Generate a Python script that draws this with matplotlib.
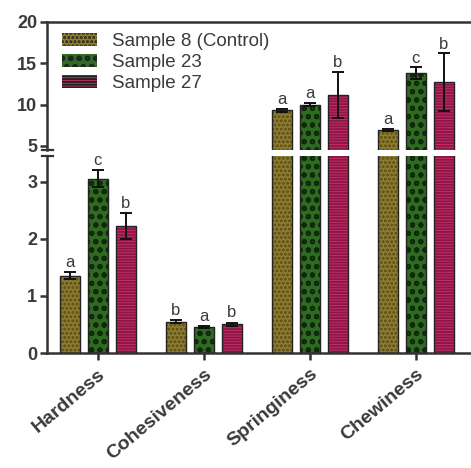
import matplotlib
matplotlib.use("Agg")
import matplotlib.pyplot as plt
import numpy as np
from matplotlib.patches import Patch

categories = ["Hardness", "Cohesiveness", "Springiness", "Chewiness"]
series_names = ["Sample 8 (Control)", "Sample 23", "Sample 27"]
values_s8 = [1.35, 0.55, 9.3, 6.9]
values_s23 = [3.05, 0.45, 10.0, 13.8]
values_s27 = [2.22, 0.50, 11.2, 12.7]
err_s8 = [0.06, 0.02, 0.2, 0.15]
err_s23 = [0.15, 0.02, 0.2, 0.7]
err_s27 = [0.23, 0.03, 2.8, 3.5]
letters_s8 = ["a", "b", "a", "a"]
letters_s23 = ["c", "a", "a", "c"]
letters_s27 = ["b", "b", "b", "b"]
lower_ticks = [0, 1, 2, 3]
upper_ticks = [5, 10, 15, 20]

plt.rcParams['font.family'] = ['Liberation Sans', 'DejaVu Sans']
plt.rcParams['hatch.linewidth'] = 1.4

W, H = 471, 468
fig = plt.figure(figsize=(W / 100, H / 100), dpi=100)
fig.patch.set_facecolor('white')

left = 47 / W
ax_lo = fig.add_axes([left, (H - 353) / H, 1 - left, (353 - 156) / H])
ax_hi = fig.add_axes([left, (H - 150) / H, 1 - left, (150 - 22) / H])

lo_lim = (0, 3.45)
hi_lim = (4.5, 20)

styles = [
    dict(face="#8c7c30", hatch="....", hcolor="#5a4c14"),
    dict(face="#2f6a22", hatch="oo", hcolor="#0f2a0a"),
    dict(face="#c8346c", hatch="------", hcolor="#8e1646"),
]
series_vals = [values_s8, values_s23, values_s27]
series_err = [err_s8, err_s23, err_s27]
series_letters = [letters_s8, letters_s23, letters_s27]

x = np.arange(len(categories))
offsets = [-0.264, 0.0, 0.264]
bw = 0.19
txt_color = "#3a3a3a"

for ax, lim in [(ax_lo, lo_lim), (ax_hi, hi_lim)]:
    for s in range(3):
        st = styles[s]
        xs = x + offsets[s]
        ax.bar(xs, series_vals[s], bw, color=st["face"], edgecolor=st["hcolor"],
               hatch=st["hatch"], linewidth=0, zorder=2)
        ax.bar(xs, series_vals[s], bw, fill=False, edgecolor="#222222",
               linewidth=1.0, zorder=3)
        ax.errorbar(xs, series_vals[s], yerr=series_err[s], fmt='none',
                    ecolor="#111111", elinewidth=1.4, capsize=4, capthick=1.4,
                    zorder=4)
        for i in range(len(categories)):
            top = series_vals[s][i] + series_err[s][i]
            rng = lim[1] - lim[0]
            if lim[0] <= top <= lim[1]:
                ax.text(xs[i], top + rng * 0.012, series_letters[s][i],
                        ha='center', va='bottom', fontsize=12, color=txt_color,
                        zorder=5)
    ax.set_xlim(-0.48, 3.52)
    ax.set_ylim(*lim)
    ax.patch.set_alpha(0)
    ax.spines['right'].set_visible(False)
    for sp in ax.spines.values():
        sp.set_linewidth(1.8)
        sp.set_color("#333333")
    ax.tick_params(axis='y', direction='out', length=5, width=1.8,
                   colors="#333333", labelsize=13, pad=2)

ax_lo.set_yticks(lower_ticks)
ax_lo.set_yticklabels([str(t) for t in lower_ticks], fontweight='bold')
ax_lo.spines['top'].set_visible(False)
ax_lo.set_xticks(x)
ax_lo.set_xticklabels(categories, rotation=40, ha='right', rotation_mode='anchor',
                      fontsize=14, fontweight='bold', color=txt_color)
ax_lo.tick_params(axis='x', direction='out', length=5, width=1.8, colors="#333333",
                  pad=4)
for lab in ax_lo.get_xticklabels():
    lab.set_color(txt_color)
for lab in ax_lo.get_yticklabels():
    lab.set_color(txt_color)

ax_hi.set_yticks(upper_ticks)
ax_hi.set_yticklabels([str(t) for t in upper_ticks], fontweight='bold')
ax_hi.spines['bottom'].set_visible(False)
ax_hi.set_xticks([])
for lab in ax_hi.get_yticklabels():
    lab.set_color(txt_color)

# break marks on y-axis
for yy in [150, 156]:
    fig.add_artist(plt.Line2D([(left * W - 5) / W, (left * W + 6) / W],
                              [(H - yy) / H, (H - yy) / H],
                              color="#333333", linewidth=1.6))

handles = [Patch(facecolor=st["face"], edgecolor=st["hcolor"], hatch=st["hatch"],
                 linewidth=0) for st in styles]
leg = ax_hi.legend(handles, series_names, loc='upper left', frameon=False,
                   fontsize=13.5, handlelength=1.85, handleheight=0.7,
                   handletextpad=0.8, labelspacing=0.2, borderaxespad=0.2,
                   bbox_to_anchor=(0.01, 1.0))
for t in leg.get_texts():
    t.set_color(txt_color)
for h in leg.legend_handles:
    h.set_edgecolor("#222222")

fig.savefig("out.png", dpi=100, facecolor='white')
